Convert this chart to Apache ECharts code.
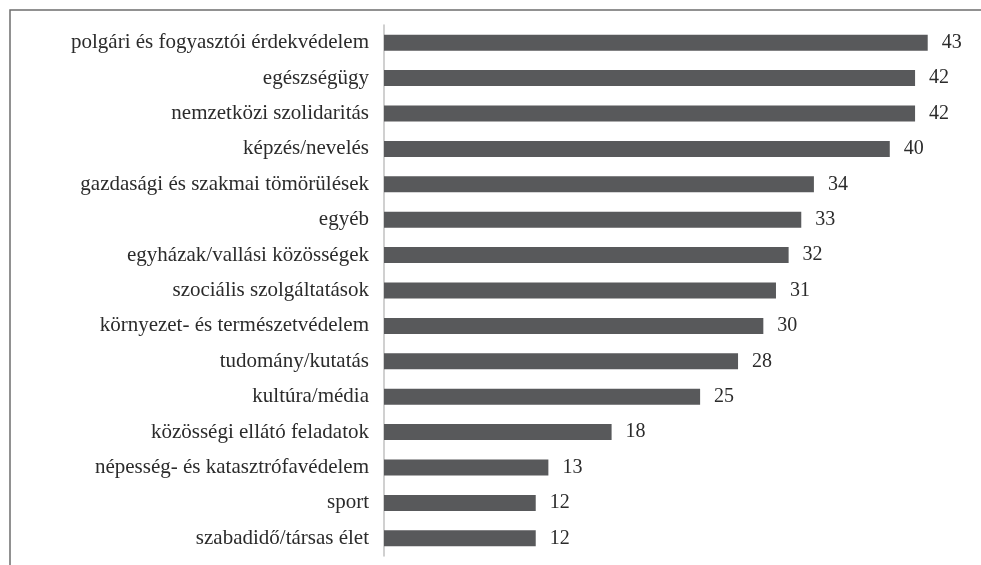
<!DOCTYPE html>
<html>
<head>
<meta charset="utf-8">
<script src="https://cdn.jsdelivr.net/npm/echarts@6/dist/echarts.min.js"></script>
<style>
  html, body { margin: 0; padding: 0; background: #fff; }
  #chart { width: 981px; height: 565px; }
</style>
</head>
<body>
<div id="chart"></div>
<script>
  // kategóriák, felülről lefelé
  var categories = [
    'polgári és fogyasztói érdekvédelem',
    'egészségügy',
    'nemzetközi szolidaritás',
    'képzés/nevelés',
    'gazdasági és szakmai tömörülések',
    'egyéb',
    'egyházak/vallási közösségek',
    'szociális szolgáltatások',
    'környezet- és természetvédelem',
    'tudomány/kutatás',
    'kultúra/média',
    'közösségi ellátó feladatok',
    'népesség- és katasztrófavédelem',
    'sport',
    'szabadidő/társas élet'
  ];
  var values = [43, 42, 42, 40, 34, 33, 32, 31, 30, 28, 25, 18, 13, 12, 12];

  var myChart = echarts.init(document.getElementById('chart'));
  var option = {
    animation: false,
    backgroundColor: '#fff',
    graphic: [{
      type: 'rect',
      shape: { x: 10, y: 10, width: 1000, height: 600 },
      style: { fill: 'none', stroke: '#6e6e6e', lineWidth: 1.5 }
    }],
    grid: {
      left: 384,
      right: 28,
      top: 25,
      bottom: 9,
      containLabel: false
    },
    xAxis: {
      type: 'value',
      min: 0,
      max: 45,
      show: false
    },
    yAxis: {
      type: 'category',
      inverse: true,
      data: categories,
      axisTick: { show: false },
      axisLine: { show: true, lineStyle: { color: '#c0c0c0', width: 1.5 } },
      axisLabel: {
        margin: 15,
        color: '#2b2b2b',
        fontSize: 21,
        fontFamily: 'Liberation Serif'
      }
    },
    series: [{
      type: 'bar',
      data: values,
      barWidth: 16,
      itemStyle: { color: '#58595b' },
      label: {
        show: true,
        position: 'right',
        distance: 14,
        color: '#2b2b2b',
        fontSize: 20,
        fontFamily: 'Liberation Serif'
      }
    }]
  };
  myChart.setOption(option);
</script>
</body>
</html>
